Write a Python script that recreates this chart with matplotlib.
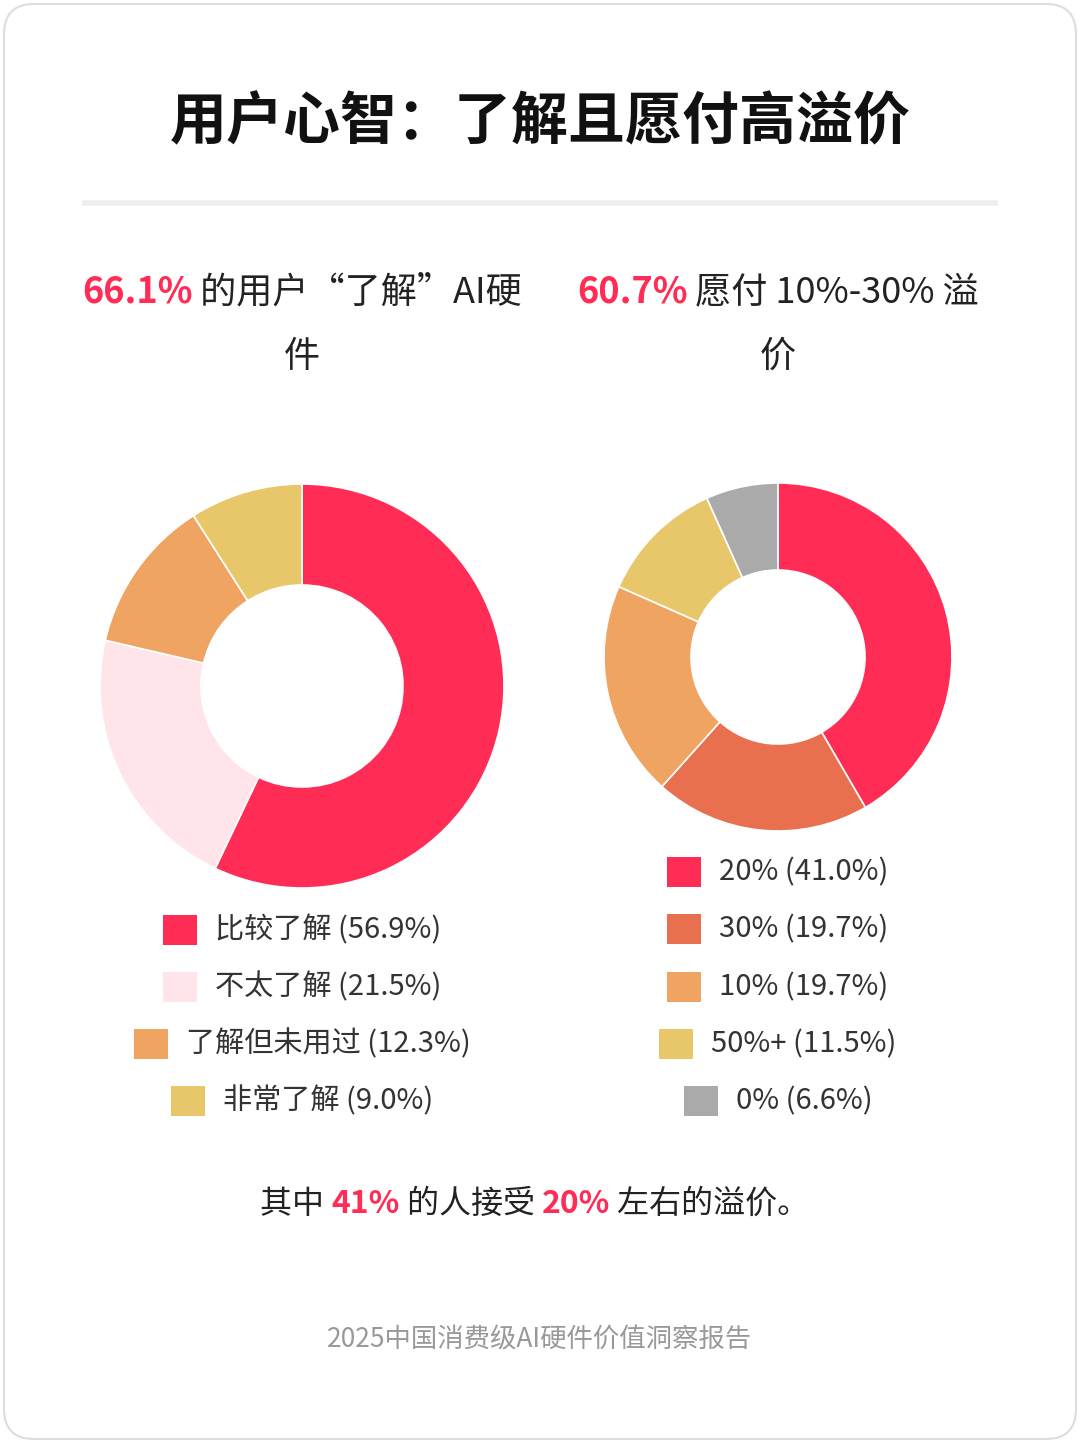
import matplotlib
matplotlib.use("Agg")
import matplotlib.pyplot as plt
from matplotlib.patches import FancyBboxPatch, Rectangle

plt.rcParams['font.family'] = ['Noto Sans CJK SC', 'DejaVu Sans']

RED = '#FF2D55'
W, H = 1080, 1443

# 数据
left_labels = ['比较了解', '不太了解', '了解但未用过', '非常了解']
left_values = [56.9, 21.5, 12.3, 9.0]
left_colors = ['#FF2D55', '#FFE4EA', '#F0A462', '#E8C76A']

right_labels = ['20%', '30%', '10%', '50%+', '0%']
right_values = [41.0, 19.7, 19.7, 11.5, 6.6]
right_colors = ['#FF2D55', '#E8704F', '#F0A462', '#E8C76A', '#AAAAAA']

fig = plt.figure(figsize=(W / 100, H / 100), dpi=100)
fig.patch.set_facecolor('white')

# 卡片边框
bg = fig.add_axes([0, 0, 1, 1])
bg.set_xlim(0, W)
bg.set_ylim(H, 0)
bg.axis('off')
bg.add_patch(FancyBboxPatch((4, 4), W - 8, H - 8, boxstyle='round,pad=0,rounding_size=30',
                            fc='white', ec='#DDDDDD', lw=1.5))
bg.plot([82, 998], [203, 203], color='#EEEEEE', lw=4, solid_capstyle='butt')

renderer = fig.canvas.get_renderer()


def seg_text(parts, cx, cy, size, weight='normal'):
    # parts: list of (text, color, weight) ; centred at cx (pixel coords)
    objs = []
    widths = []
    for txt, col, wt in parts:
        t = bg.text(0, cy, txt, color=col, fontsize=size, fontweight=wt,
                    va='center', ha='left')
        widths.append(t.get_window_extent(renderer).width)
        objs.append(t)
    x = cx - sum(widths) / 2
    for t, w in zip(objs, widths):
        t.set_x(x)
        x += w


bg.text(540, 122, '用户心智：了解且愿付高溢价', fontsize=41, fontweight='bold',
        color='#111111', ha='center', va='center')

seg_text([('66.1%', RED, 'bold'), (' 的用户“了解”AI硬', '#222222', 'normal')], 302, 292, 26)
bg.text(302, 357, '件', fontsize=26, color='#222222', ha='center', va='center')
seg_text([('60.7%', RED, 'bold'), (' 愿付 10%-30% 溢', '#222222', 'normal')], 778, 292, 26)
bg.text(778, 357, '价', fontsize=26, color='#222222', ha='center', va='center')


def donut(cx, cy, r, inner, values, colors):
    ax = fig.add_axes([(cx - r) / W, 1 - (cy + r) / H, 2 * r / W, 2 * r / H])
    ax.pie(values, colors=colors, startangle=90, counterclock=False, radius=1,
           wedgeprops=dict(width=1 - inner / r, edgecolor='white', linewidth=1.2))
    ax.set_xlim(-1, 1)
    ax.set_ylim(-1, 1)
    ax.set_aspect('equal')
    ax.axis('off')


donut(302, 686, 202, 101, left_values, left_colors)
donut(778, 657, 174, 87, right_values, right_colors)


def legend(cx, ys, labels, values, colors):
    for y, lab, v, c in zip(ys, labels, values, colors):
        t = bg.text(0, y, f'{lab} ({v:.1f}%)', fontsize=21, color='#333333',
                    va='center', ha='left')
        w = t.get_window_extent(renderer).width
        total = 34 + 18 + w
        x0 = cx - total / 2
        bg.add_patch(Rectangle((x0, y - 15), 34, 30, color=c, lw=0))
        t.set_x(x0 + 52)


legend(302, [930, 987, 1044, 1101], left_labels, left_values, left_colors)
legend(778, [872, 929, 987, 1044, 1101], right_labels, right_values, right_colors)

seg_text([('其中 ', '#222222', 'normal'), ('41%', RED, 'bold'),
          (' 的人接受 ', '#222222', 'normal'), ('20%', RED, 'bold'),
          (' 左右的溢价。', '#222222', 'normal')], 535, 1204, 23)

bg.text(540, 1340, '2025中国消费级AI硬件价值洞察报告', fontsize=19, color='#999999',
        ha='center', va='center')

fig.savefig('out.png', dpi=100, facecolor='white')
